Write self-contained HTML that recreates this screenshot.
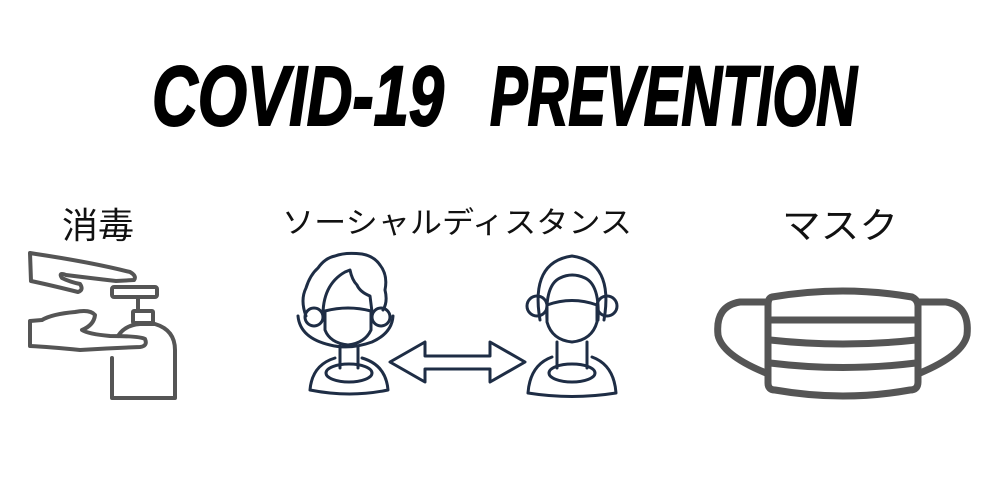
<!DOCTYPE html>
<html><head><meta charset="utf-8"><style>
html,body{margin:0;padding:0;background:#fff;width:1000px;height:500px;overflow:hidden}
</style></head><body>
<svg width="1000" height="500" viewBox="0 0 1000 500" xmlns="http://www.w3.org/2000/svg">
<rect width="1000" height="500" fill="#fff"/>
<g font-family="Liberation Sans Narrow, Liberation Sans, sans-serif" font-weight="bold" font-style="italic" font-size="84" fill="#000" stroke="#000" stroke-width="2">
<text x="152" y="125" textLength="292" lengthAdjust="spacingAndGlyphs">COVID-19</text>
<text x="490" y="125" textLength="367" lengthAdjust="spacingAndGlyphs">PREVENTION</text>
</g>
<text x="62" y="238" font-family="Liberation Sans, Noto Sans CJK JP, sans-serif" font-size="36" fill="#111">消毒</text>
<text x="282" y="233" font-family="Liberation Sans, Noto Sans CJK JP, sans-serif" font-size="30" textLength="350" lengthAdjust="spacingAndGlyphs" fill="#111">ソーシャルディスタンス</text>
<text x="782" y="238" font-family="Liberation Sans, Noto Sans CJK JP, sans-serif" font-size="36" textLength="116" lengthAdjust="spacingAndGlyphs" fill="#111">マスク</text>

<!-- hand sanitizer -->
<g fill="none" stroke="#555" stroke-width="4" stroke-linejoin="round" stroke-linecap="round">
<path d="M30,253 L36,254 Q90,262 130,272 Q137,276 134,280 L116,281 Q90,278 66,275 Q58,272 62,278 Q70,282 80,284 Q84,290 78,292 Q50,285 31,281 Z"/>
<path d="M30,321 L42,320 Q52,314 75,312 Q90,309 95,315 Q94,325 82,330 Q88,334 110,336 Q140,336 145,339 Q148,346 140,347 Q110,348 80,350 Q50,347 30,346 Z"/>
<rect x="112" y="287" width="45" height="10" rx="2"/>
<line x1="138" y1="297" x2="138" y2="310"/>
<rect x="133" y="311" width="20" height="12" rx="1"/>
<path d="M118,336 Q125,325 140,324 L155,324 Q175,330 175,350 L175,398 L112,398 L112,358"/>
</g>

<!-- people -->
<g fill="none" stroke="#1e2d45" stroke-width="3" stroke-linejoin="round" stroke-linecap="round">
<!-- left person -->
<path d="M323,318 Q322,285 345,272 L350,270 Q352,280 357,285 Q360,292 370,296 L372,312"/>
<path d="M306,316 Q300,300 306,288 Q310,275 318,268 Q325,258 335,256 Q345,252 362,254 Q374,256 380,265 Q388,275 385,290 Q388,302 383,310"/>
<circle cx="314" cy="317" r="9"/><circle cx="381" cy="317" r="9"/>
<path d="M298,316 Q300,338 330,345 Q350,350 372,342 Q392,333 393,316"/>
<path d="M325,311 Q348,305 371,311 L371,330 Q365,343 348,345 Q330,343 325,330 Z"/>
<line x1="340" y1="346" x2="340" y2="368"/><line x1="358" y1="346" x2="358" y2="368"/>
<ellipse cx="349" cy="373" rx="23" ry="9"/>
<path d="M310,390 Q312,365 335,358 M362,358 Q386,365 388,390 Q350,398 310,390"/>
<!-- right person -->
<path d="M540,320 Q530,262 572,256 Q614,262 604,320"/>
<path d="M547,320 Q545,285 560,278 Q572,272 585,278 Q600,285 598,320"/>
<circle cx="537" cy="306" r="10"/><circle cx="607" cy="306" r="10"/>
<path d="M547,305 Q572,296 597,305 L597,322 Q592,340 572,342 Q552,340 547,322 Z"/>
<line x1="557" y1="342" x2="557" y2="368"/><line x1="587" y1="342" x2="587" y2="368"/>
<ellipse cx="572" cy="373" rx="23" ry="9"/>
<path d="M528,393 Q530,365 552,357 M592,357 Q614,365 616,393 Q572,400 528,393"/>
<!-- arrow -->
<polygon points="390,362 425,342 425,356 490,356 490,342 525,362 490,382 490,369 425,369 425,382"/>
</g>

<!-- mask -->
<g fill="none" stroke="#555" stroke-width="7" stroke-linejoin="round" stroke-linecap="round">
<path d="M772,297 Q843,285 912,297 Q918,300 918,306 L918,382 Q918,390 910,390 Q843,402 775,390 Q768,390 768,383 L768,305 Q768,298 772,297 Z"/>
<path d="M768,302 L740,302 Q715,306 718,335 Q722,355 766,373"/>
<path d="M918,302 L946,302 Q970,306 967,335 Q963,355 920,373"/>
<line x1="770" y1="320" x2="916" y2="320"/>
<path d="M770,340 Q843,348 916,340"/>
<path d="M770,363 Q843,372 916,363"/>
</g>
</svg>
</body></html>
